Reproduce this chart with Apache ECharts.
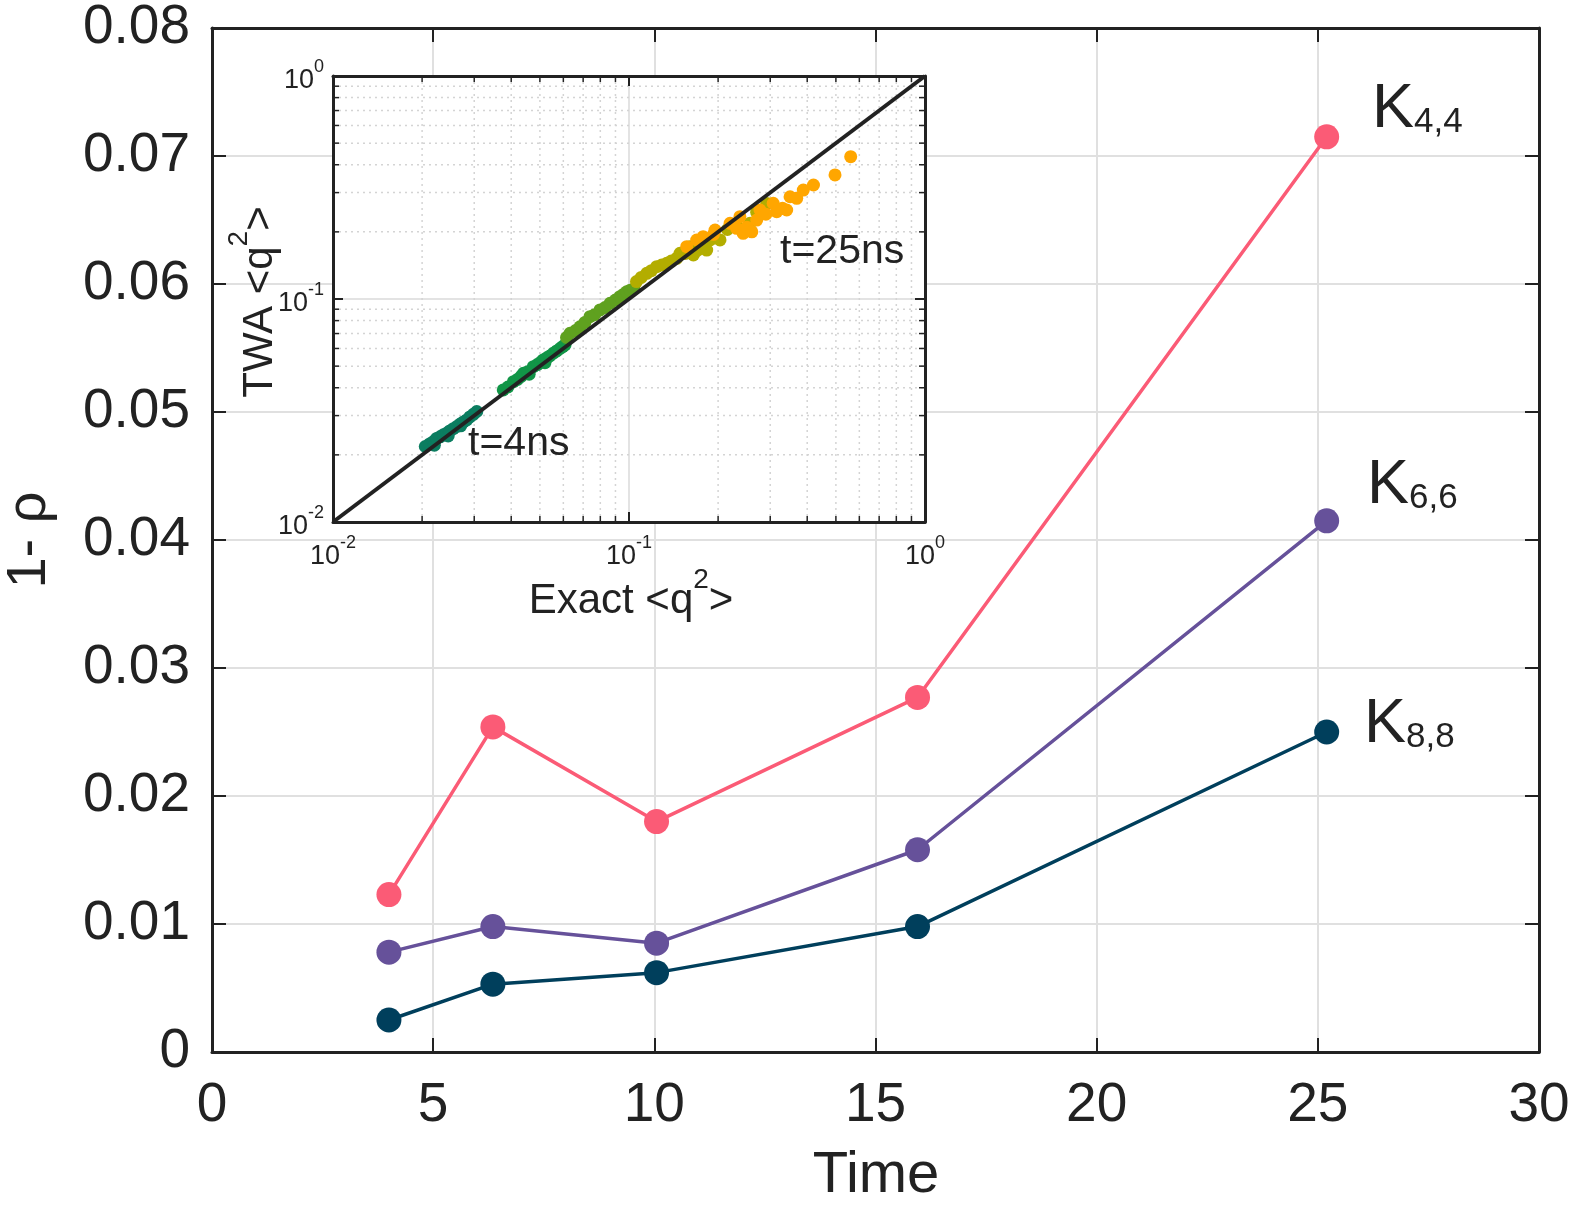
<!DOCTYPE html>
<html>
<head>
<meta charset="utf-8">
<script src="https://cdn.jsdelivr.net/npm/echarts@6/dist/echarts.min.js"></script>
<style>
html, body { margin: 0; padding: 0; background: #fff; }
#chart { width: 1578px; height: 1205px; }
</style>
</head>
<body>
<div id="chart"></div>
<script>
// main plot: 1-rho vs time
var times = [4, 6.35, 10.05, 15.95, 25.2];
var k44 = [0.0123, 0.0254, 0.0180, 0.0277, 0.0715];
var k66 = [0.0078, 0.0098, 0.0085, 0.0158, 0.0415];
var k88 = [0.0025, 0.0053, 0.0062, 0.0098, 0.0250];

// inset: TWA <q^2> vs exact <q^2>, one group per time
var g1 = [[0.0205,0.0218],[0.0212,0.0224],[0.0218,0.0229],[0.022,0.0221],[0.0224,0.0237],[0.023,0.0241],
	[0.0236,0.0246],[0.0242,0.025],[0.0245,0.0243],[0.0248,0.0256],[0.0255,0.0262],[0.0262,0.0268],
	[0.027,0.027],[0.0269,0.0275],[0.0276,0.0281],[0.0283,0.0287],[0.029,0.0296],[0.0298,0.0304],[0.0306,0.0313]];
var g2 = [[0.0376,0.0391],[0.039,0.0403],[0.0407,0.0426],[0.042,0.0436],[0.0432,0.045],[0.044,0.0464],
	[0.046,0.046],[0.0455,0.0472],[0.0475,0.0497],[0.049,0.0508],[0.0503,0.052],[0.052,0.0518],[0.0513,0.0533],
	[0.0528,0.0545],[0.054,0.0555],[0.0555,0.0571],[0.057,0.0585],[0.0585,0.06],[0.0597,0.0612],[0.0608,0.0622]];
var g3 = [[0.0615,0.0672],[0.0632,0.0702],[0.066,0.0722],[0.0683,0.0751],[0.071,0.0785],[0.0738,0.0833],
	[0.0765,0.085],[0.0798,0.0893],[0.083,0.0915],[0.0863,0.0956],[0.09,0.099],[0.0932,0.1024],
	[0.0958,0.1048],[0.0982,0.1078],[0.101,0.1095],[0.104,0.111]];
var g4 = [[0.106,0.1197],[0.11,0.125],[0.1148,0.1304],[0.119,0.134],[0.124,0.1396],[0.129,0.142],
	[0.1341,0.1446],[0.139,0.148],[0.1449,0.1522],[0.1487,0.1603],[0.155,0.16],[0.1607,0.1716],
	[0.165,0.1575],[0.17,0.165],[0.175,0.172],[0.183,0.1658],[0.1879,0.1839],[0.195,0.19],[0.203,0.184],
	[0.215,0.205],[0.23,0.215],[0.2564,0.2186],[0.27,0.245],[0.292,0.268]];
var g5 = [[0.1566,0.1716],[0.1693,0.1839],[0.178,0.19],[0.193,0.195],[0.1953,0.2039],[0.2195,0.2185],
	[0.231,0.2075],[0.237,0.234],[0.243,0.197],[0.25,0.21],[0.26,0.2],[0.27,0.226],[0.277,0.2506],
	[0.29,0.24],[0.307,0.2687],[0.3155,0.2463],[0.33,0.255],[0.341,0.2506],[0.35,0.2875],
	[0.3687,0.2828],[0.388,0.308],[0.42,0.3245],[0.4966,0.36],[0.561,0.4347]];
var diagLine = [[0.01, 0.01], [1, 1]];
var majorVals = [0.01, 0.1, 1];
var minorVals = [0.02, 0.03, 0.04, 0.05, 0.06, 0.07, 0.08, 0.09, 0.2, 0.3, 0.4, 0.5, 0.6, 0.7, 0.8, 0.9];

var FONT = 'Liberation Sans, Arial, sans-serif';
var INK = '#222';

function pairs(xs, ys) {
	return xs.map(function(x, i) { return [x, ys[i]]; });
}

function mainLine(name, color, ys) {
	return {
		name: name,
		type: 'line',
		xAxisIndex: 0,
		yAxisIndex: 0,
		data: pairs(times, ys),
		symbol: 'circle',
		symbolSize: 25,
		lineStyle: { color: color, width: 3.5 },
		itemStyle: { color: color },
		z: 3
	};
}

function dots(data, color) {
	return {
		type: 'scatter',
		xAxisIndex: 2,
		yAxisIndex: 2,
		data: data,
		symbolSize: 13,
		itemStyle: { color: color, opacity: 1 },
		z: 5
	};
}

// 10^n tick text, drawn by a custom series so the superscript can be sized
var powRich = {
	b: { fontSize: 27, lineHeight: 36, fontFamily: FONT, fill: INK, verticalAlign: 'bottom' },
	p: { fontSize: 18, lineHeight: 18, fontFamily: FONT, fill: INK, verticalAlign: 'top' }
};

function mainAxis(pos, extra) {
	var a = {
		type: 'value',
		gridIndex: 0,
		position: pos,
		axisLine: { show: true, onZero: false, lineStyle: { color: INK, width: 3 } },
		axisTick: { show: true, inside: true, length: 14, lineStyle: { color: INK, width: 2 } },
		axisLabel: { show: false },
		splitLine: { show: false },
		z: 1
	};
	for (var k in extra) a[k] = extra[k];
	return a;
}

function insetAxis(pos, extra) {
	var a = {
		type: 'log',
		logBase: 10,
		gridIndex: 1,
		position: pos,
		min: 0.01,
		max: 1,
		splitNumber: 2,
		axisLine: { show: true, onZero: false, lineStyle: { color: INK, width: 3 } },
		axisTick: { show: true, inside: true, length: 10, lineStyle: { color: INK, width: 2 } },
		axisLabel: { show: false },
		splitLine: { show: false },
		minorTick: { show: false },
		z: 4
	};
	for (var k in extra) a[k] = extra[k];
	return a;
}

var chart = echarts.init(document.getElementById('chart'));

var option = {
	animation: false,
	backgroundColor: '#fff',
	grid: [
		{ left: 212, top: 28, width: 1327, height: 1024, containLabel: false },
		{ left: 333, top: 76, width: 592, height: 446, show: true, backgroundColor: '#fff', borderWidth: 0, z: 3 }
	],
	xAxis: [
		mainAxis('bottom', {
			min: 0, max: 30, interval: 5,
			axisLabel: { show: true, fontSize: 55, fontFamily: FONT, color: INK, margin: 26 },
			splitLine: { show: true, lineStyle: { color: '#e0e0e0', width: 2 } }
		}),
		mainAxis('top', { min: 0, max: 30, interval: 5 }),
		insetAxis('bottom', {
			splitLine: { show: true, lineStyle: { color: '#e3e3e3', width: 2 } }
		}),
		insetAxis('top', {})
	],
	yAxis: [
		mainAxis('left', {
			min: 0, max: 0.08, interval: 0.01,
			axisLabel: { show: true, fontSize: 55, fontFamily: FONT, color: INK, margin: 22 },
			splitLine: { show: true, lineStyle: { color: '#e0e0e0', width: 2 } }
		}),
		mainAxis('right', { min: 0, max: 0.08, interval: 0.01 }),
		insetAxis('left', {
			splitLine: { show: true, lineStyle: { color: '#e3e3e3', width: 2 } }
		}),
		insetAxis('right', {})
	],
	series: [
		mainLine('K44', '#fb5b76', k44),
		mainLine('K66', '#66519a', k66),
		mainLine('K88', '#003f5c', k88),
		{
			// minor log ticks and dotted minor grid of the inset
			type: 'custom',
			xAxisIndex: 2,
			yAxisIndex: 2,
			coordinateSystem: 'cartesian2d',
			clip: false,
			silent: true,
			z: 4,
			encode: { x: 0, y: 1 },
			data: minorVals.map(function(v) { return [v, 0.01, 0]; })
				.concat(minorVals.map(function(v) { return [0.01, v, 1]; })),
			renderItem: function(params, api) {
				var isX = api.value(2) === 0;
				var v = isX ? api.value(0) : api.value(1);
				var p0 = isX ? api.coord([v, 0.01]) : api.coord([0.01, v]);
				var p1 = isX ? api.coord([v, 1]) : api.coord([1, v]);
				var t0 = isX ? [p0[0], p0[1] - 6] : [p0[0] + 6, p0[1]];
				var t1 = isX ? [p1[0], p1[1] + 6] : [p1[0] - 6, p1[1]];
				var tickStyle = { stroke: INK, lineWidth: 1.5 };
				return {
					type: 'group',
					children: [
						{ type: 'line', shape: { x1: p0[0], y1: p0[1], x2: p1[0], y2: p1[1] },
							style: { stroke: '#d4d4d4', lineWidth: 1.5, lineDash: [2, 4] } },
						{ type: 'line', shape: { x1: p0[0], y1: p0[1], x2: t0[0], y2: t0[1] }, style: tickStyle },
						{ type: 'line', shape: { x1: p1[0], y1: p1[1], x2: t1[0], y2: t1[1] }, style: tickStyle }
					]
				};
			}
		},
		{
			// inset tick labels 10^n
			type: 'custom',
			xAxisIndex: 2,
			yAxisIndex: 2,
			coordinateSystem: 'cartesian2d',
			clip: false,
			silent: true,
			z: 4,
			encode: { x: 0, y: 1 },
			data: majorVals.map(function(v) { return [v, 0.01, 0]; })
				.concat(majorVals.map(function(v) { return [0.01, v, 1]; })),
			renderItem: function(params, api) {
				var isX = api.value(2) === 0;
				var v = isX ? api.value(0) : api.value(1);
				var p = isX ? api.coord([v, 0.01]) : api.coord([0.01, v]);
				var e = Math.round(Math.log(v) / Math.LN10);
				return {
					type: 'text',
					x: isX ? p[0] : p[0] - 9,
					y: isX ? p[1] + 12 : p[1],
					style: {
						text: '{b|10}{p|' + e + '}',
						rich: powRich,
						fill: INK,
						align: isX ? 'center' : 'right',
						verticalAlign: isX ? 'top' : 'middle'
					}
				};
			}
		},
		dots(g1, '#0b7d60'),
		dots(g2, '#119547'),
		dots(g3, '#5fa11f'),
		dots(g4, '#b3ad00'),
		dots(g5, '#ffa600'),
		{
			type: 'line',
			xAxisIndex: 2,
			yAxisIndex: 2,
			data: diagLine,
			symbol: 'none',
			lineStyle: { color: INK, width: 4 },
			z: 6
		}
	],
	graphic: [
		{ type: 'text', x: 30, y: 540, rotation: Math.PI / 2,
			style: { text: '1- ρ', font: '56px ' + FONT, fill: INK, align: 'center', verticalAlign: 'middle' } },
		{ type: 'text', x: 876, y: 1176,
			style: { text: 'Time', font: '58px ' + FONT, fill: INK, align: 'center', verticalAlign: 'middle' } },
		{ type: 'text', x: 631, y: 594, z: 10,
			style: { text: '{a|Exact <q}{p|2}{a|>}', fill: INK, align: 'center', verticalAlign: 'middle',
				rich: {
					a: { fontSize: 42, lineHeight: 56, fontFamily: FONT, fill: INK, verticalAlign: 'bottom' },
					p: { fontSize: 28, lineHeight: 28, fontFamily: FONT, fill: INK, verticalAlign: 'top' }
				} } },
		{ type: 'text', x: 253, y: 302, rotation: Math.PI / 2, z: 10,
			style: { text: '{a|TWA <q}{p|2}{a|>}', fill: INK, align: 'center', verticalAlign: 'middle',
				rich: {
					a: { fontSize: 42, lineHeight: 56, fontFamily: FONT, fill: INK, verticalAlign: 'bottom' },
					p: { fontSize: 28, lineHeight: 28, fontFamily: FONT, fill: INK, verticalAlign: 'top' }
				} } },
		{ type: 'text', x: 468, y: 444, z: 10,
			style: { text: 't=4ns', font: '41px ' + FONT, fill: INK, align: 'left', verticalAlign: 'middle' } },
		{ type: 'text', x: 780, y: 252, z: 10,
			style: { text: 't=25ns', font: '41px ' + FONT, fill: INK, align: 'left', verticalAlign: 'middle' } },
		kLabel('4,4', 1372, 78),
		kLabel('6,6', 1367, 454),
		kLabel('8,8', 1364, 693)
	]
};

function kLabel(sub, x, y) {
	return {
		type: 'text', x: x, y: y, z: 10,
		style: {
			text: '{k|K}{s|' + sub + '}', fill: INK, align: 'left', verticalAlign: 'top',
			rich: {
				k: { fontSize: 63, lineHeight: 62, fontFamily: FONT, fill: INK, verticalAlign: 'top' },
				s: { fontSize: 35, lineHeight: 35, fontFamily: FONT, fill: INK, verticalAlign: 'bottom', padding: [44, 0, 0, 0] }
			}
		}
	};
}

chart.setOption(option);
</script>
</body>
</html>
